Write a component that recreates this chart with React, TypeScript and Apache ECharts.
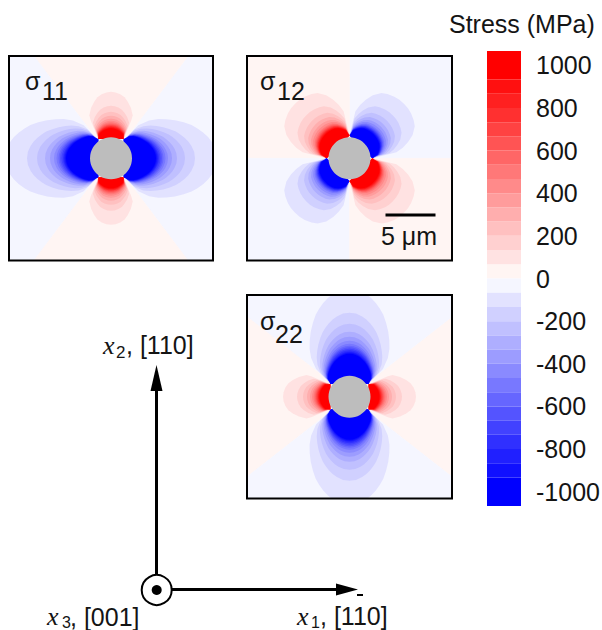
import React, { useEffect, useRef } from "react";
import * as echarts from "echarts";

const FONT = "Liberation Sans";
const SERIF = "Liberation Serif";
const INK = "#141414";

// Colour bar: stress band edges (MPa) and the colour of each band, palest first
const bandEdges = [0, 66.7, 133, 200, 267, 333, 400, 467, 533, 600, 667, 733, 800, 867, 933, 1067];
const redBands = ["#fff5f3", "#ffe2e2", "#ffd0d0", "#ffc0c0", "#ffaeae", "#ff9c9c", "#ff8a8a", "#ff7878", "#ff6666", "#ff5454", "#ff4242", "#ff3030", "#ff2020", "#ff1010", "#ff0000"];
const blueBands = ["#f5f6ff", "#e2e2ff", "#d0d0ff", "#c0c0ff", "#aeaeff", "#9c9cff", "#8a8aff", "#7878ff", "#6666ff", "#5454ff", "#4242ff", "#3030ff", "#2020ff", "#1010ff", "#0000ff"];
const barTicks = [-1000, -800, -600, -400, -200, 0, 200, 400, 600, 800, 1000];

// Radius (µm) of each stress contour along a lobe's axis, 66.7 MPa outermost
const blueRadii11 = [10.6, 8.4, 7.4, 6.6, 6.1, 5.7, 5.45, 5.25, 5.1, 4.95, 4.8, 4.7, 4.6, 4.5];
const blueRadii22 = [10.8, 8.4, 7.3, 6.5, 6.0, 5.6, 5.3, 5.1, 4.95, 4.8, 4.65, 4.5, 4.4, 4.3];
const shortRedRadii = [6.65, 5.25, 4.65, 4.25, 3.95, 3.75, 3.6, 3.48, 3.38, 3.3, 3.22, 3.15, 3.08, 3.0];
const diagonalRadii = [7.7, 6.1, 5.3, 4.8, 4.45, 4.2, 4.0, 3.88, 3.78, 3.7, 3.62, 3.55, 3.48, 3.4];

// Lobe outlines: [fraction of the half-span, fraction of the way out to the axis radius]
const longShape = [[0, 1], [0.08, 0.99], [0.16, 0.956], [0.22, 0.92], [0.28, 0.875], [0.34, 0.825], [0.4, 0.773], [0.47, 0.7], [0.55, 0.62], [0.63, 0.54], [0.71, 0.464], [0.8, 0.37], [0.9, 0.24], [0.95, 0.07], [1, 0]];
const shortShape = [[0, 1], [0.12, 0.99], [0.25, 0.96], [0.38, 0.91], [0.5, 0.83], [0.65, 0.72], [0.81, 0.58], [0.85, 0.47], [0.885, 0.31], [0.94, 0.14], [1, 0]];
const diagonalShape = [[0, 1], [0.1, 0.998], [0.2, 0.985], [0.32, 0.955], [0.42, 0.92], [0.55, 0.82], [0.655, 0.7], [0.75, 0.58], [0.84, 0.45], [0.93, 0.12], [1, 0]];

// Far-field sectors: [from angle, to angle, sign]
const sectors11 = [[-53, 53, -1], [53, 127, 1], [127, 233, -1], [233, 307, 1]];
const sectors12 = [[0, 90, -1], [90, 180, 1], [180, 270, -1], [270, 360, 1]];
const sectors22 = [[-38, 38, 1], [38, 142, -1], [142, 218, 1], [218, 322, -1]];

// Lobes: [axis angle, half-span, sign]
const lobes11Blue = [[0, 56, -1], [180, 56, -1]];
const lobes11Red = [[90, 33, 1], [270, 33, 1]];
const lobes12 = [[45, 45, -1], [135, 45, 1], [225, 45, -1], [315, 45, 1]];
const lobes22Blue = [[90, 56, -1], [270, 56, -1]];
const lobes22Red = [[0, 33, 1], [180, 33, 1]];

const inclusionRadius = 2.1; // µm
const contourOrigin = 2.3; // µm
const scaleBar = [3.6, 8.6, -5.67]; // x from, x to, y (µm)

const rad = (d: number) => (d * Math.PI) / 180;
const polar = (r: number, a: number) => [r * Math.cos(rad(a)), r * Math.sin(rad(a))];

type Item =
  | { kind: "sector"; from: number; to: number; color: string }
  | { kind: "contour"; pts: number[][]; color: string }
  | { kind: "disc" };

function contour(axis: number, half: number, sign: number, R: number, shape: number[][], level: number): Item {
  const up = shape.map(([u, s]) => polar(contourOrigin + (R - contourOrigin) * s, axis + u * half));
  const down = shape.slice(1).map(([u, s]) => polar(contourOrigin + (R - contourOrigin) * s, axis - u * half));
  return {
    kind: "contour",
    pts: [...down.reverse(), ...up],
    color: (sign > 0 ? redBands : blueBands)[level],
  };
}

function panelItems(sectors: number[][], groups: { lobes: number[][]; radii: number[]; shape: number[][] }[]): Item[] {
  const items: Item[] = sectors.map(([from, to, s]) => ({
    kind: "sector",
    from,
    to,
    color: s > 0 ? redBands[0] : blueBands[0],
  }));
  groups.forEach((g) =>
    g.lobes.forEach(([axis, half, sign]) =>
      g.radii.forEach((R, i) => items.push(contour(axis, half, sign, R, g.shape, i + 1)))
    )
  );
  items.push({ kind: "disc" });
  return items;
}

function fieldSeries(idx: number, items: Item[]) {
  return {
    type: "custom",
    xAxisIndex: idx,
    yAxisIndex: idx,
    clip: true,
    silent: true,
    data: items.map((_, i) => [i]),
    renderItem: (p: any, api: any) => {
      const it = items[p.dataIndex];
      if (it.kind === "sector") {
        const mid = (it.from + it.to) / 2;
        const pts = [[0, 0], polar(40, it.from), polar(40, mid), polar(40, it.to)].map((c) => api.coord(c));
        return { type: "polygon", shape: { points: pts }, style: { fill: it.color, stroke: it.color, lineWidth: 0.6 } };
      }
      if (it.kind === "contour") {
        return {
          type: "polygon",
          shape: { points: it.pts.map((c) => api.coord(c)) },
          style: { fill: it.color },
        };
      }
      const c = api.coord([0, 0]);
      const s = api.size([inclusionRadius, inclusionRadius]);
      return { type: "circle", shape: { cx: c[0], cy: c[1], r: s[0] }, style: { fill: "#bdbdbd" } };
    },
  };
}

function frameSeries(idx: number, hx: number, hy: number, withScale: boolean) {
  return {
    type: "custom",
    xAxisIndex: idx,
    yAxisIndex: idx,
    clip: false,
    silent: true,
    z: 5,
    data: [[0]],
    renderItem: (_: any, api: any) => {
      const a = api.coord([-hx, hy]);
      const b = api.coord([hx, -hy]);
      const children: any[] = [
        {
          type: "rect",
          shape: { x: a[0], y: a[1], width: b[0] - a[0], height: b[1] - a[1] },
          style: { fill: "none", stroke: "#000", lineWidth: 2 },
        },
      ];
      if (withScale) {
        const l = api.coord([scaleBar[0], scaleBar[2]]);
        const r = api.coord([scaleBar[1], scaleBar[2]]);
        children.push({
          type: "line",
          shape: { x1: l[0], y1: l[1], x2: r[0], y2: r[1] },
          style: { stroke: "#000", lineWidth: 3 },
        });
      }
      return { type: "group", children };
    },
  };
}

const barBands = [
  ...redBands.map((color, i) => ({ lo: bandEdges[i], hi: bandEdges[i + 1], color })),
  ...blueBands.map((color, i) => ({ lo: -bandEdges[i + 1], hi: -bandEdges[i], color })),
];

const txt = (text: string, x: number, y: number, size: number, extra: any = {}) => ({
  type: "text",
  x,
  y,
  z: 20,
  silent: true,
  style: {
    text,
    x: 0,
    y: 0,
    fontSize: size,
    fontFamily: FONT,
    fill: INK,
    verticalAlign: "middle",
    ...extra,
  },
});
const italic = { fontFamily: SERIF, fontStyle: "italic" };

const panels = [
  { left: 9, top: 56, w: 204, h: 204.6 },
  { left: 247, top: 56, w: 205, h: 204.6 },
  { left: 247, top: 295, w: 205, h: 203.5 },
];

export default function App() {
  const ref = useRef<HTMLDivElement>(null);
  useEffect(() => {
    const chart = echarts.init(ref.current!, undefined, { renderer: "svg" });
    const grids: any[] = panels.map((p) => ({ left: p.left, top: p.top, width: p.w, height: p.h, containLabel: false, outerBoundsMode: "none" }));
    grids.push({ left: 487, top: 51, width: 34, height: 455, outerBoundsMode: "none" });
    const xAxes: any[] = panels.map((p, i) => ({ type: "value", show: false, min: -p.w / 20, max: p.w / 20, gridIndex: i }));
    const yAxes: any[] = panels.map((p, i) => ({ type: "value", show: false, min: -p.h / 20, max: p.h / 20, gridIndex: i }));
    xAxes.push({ type: "value", show: false, min: 0, max: 1, gridIndex: 3 });
    yAxes.push({
      type: "value",
      gridIndex: 3,
      position: "right",
      min: -1067,
      max: 1067,
      splitLine: { show: false },
      axisLine: { show: false },
      axisTick: { show: false },
      axisLabel: {
        customValues: barTicks,
        margin: 15,
        fontSize: 25,
        fontFamily: FONT,
        color: INK,
        formatter: (v: number) => String(v),
      },
    });
    chart.setOption({
      animation: false,
      backgroundColor: "#fff",
      title: {
        text: "Stress (MPa)",
        left: 449,
        top: 11,
        padding: 0,
        textStyle: { fontSize: 25, fontFamily: FONT, fontWeight: "normal", color: INK },
      },
      grid: grids,
      xAxis: xAxes,
      yAxis: yAxes,
      series: [
        fieldSeries(0, panelItems(sectors11, [
          { lobes: lobes11Blue, radii: blueRadii11, shape: longShape },
          { lobes: lobes11Red, radii: shortRedRadii, shape: shortShape },
        ])),
        fieldSeries(1, panelItems(sectors12, [{ lobes: lobes12, radii: diagonalRadii, shape: diagonalShape }])),
        fieldSeries(2, panelItems(sectors22, [
          { lobes: lobes22Blue, radii: blueRadii22, shape: longShape },
          { lobes: lobes22Red, radii: shortRedRadii, shape: shortShape },
        ])),
        frameSeries(0, panels[0].w / 20, panels[0].h / 20, false),
        frameSeries(1, panels[1].w / 20, panels[1].h / 20, true),
        frameSeries(2, panels[2].w / 20, panels[2].h / 20, false),
        {
          type: "custom",
          xAxisIndex: 3,
          yAxisIndex: 3,
          silent: true,
          data: barBands.map((b) => [b.lo, b.hi]),
          renderItem: (p: any, api: any) => {
            const b = barBands[p.dataIndex];
            const a = api.coord([0, b.hi]);
            const c = api.coord([1, b.lo]);
            return {
              type: "rect",
              shape: { x: a[0], y: a[1], width: c[0] - a[0], height: c[1] - a[1] },
              style: { fill: b.color },
            };
          },
        },
      ],
      graphic: [
        txt("σ", 25, 81, 25),
        txt("11", 42, 90.5, 25),
        txt("σ", 260, 81, 25),
        txt("12", 277, 90.5, 25),
        txt("σ", 260, 321, 25),
        txt("22", 275, 333.5, 25),
        txt("5 μm", 381, 235.5, 25),
        // x2 axis
        { type: "line", shape: { x1: 156.5, y1: 575, x2: 156.5, y2: 385 }, style: { stroke: "#000", lineWidth: 3 } },
        { type: "polygon", shape: { points: [[156.5, 365], [150.5, 391], [162.5, 391]] }, style: { fill: "#000" } },
        // x1 axis
        { type: "line", shape: { x1: 172, y1: 589.5, x2: 340, y2: 589.5 }, style: { stroke: "#000", lineWidth: 3 } },
        { type: "polygon", shape: { points: [[358, 589.5], [336, 583.5], [336, 595.5]] }, style: { fill: "#000" } },
        // x3 axis symbol
        { type: "circle", shape: { cx: 156.7, cy: 590, r: 15 }, style: { fill: "#fff", stroke: "#000", lineWidth: 2 } },
        { type: "circle", shape: { cx: 156.7, cy: 590, r: 5 }, style: { fill: "#000" } },
        // axis labels
        txt("x", 103, 345, 26, italic),
        txt("2", 116, 352, 17),
        txt(", [110]", 126, 345, 25),
        txt("x", 47, 616, 26, italic),
        txt("3", 62, 622, 16),
        txt(", [001]", 70, 616.5, 25),
        txt("x", 297, 616, 26, italic),
        txt("1", 311, 622, 16),
        txt(", [110]", 320, 616, 25),
        { type: "line", shape: { x1: 357, y1: 595, x2: 363, y2: 595 }, style: { stroke: "#000", lineWidth: 2 } },
      ],
    });
    return () => chart.dispose();
  }, []);
  return <div ref={ref} style={{ position: "absolute", left: 0, top: 0, width: 602, height: 630 }} />;
}
